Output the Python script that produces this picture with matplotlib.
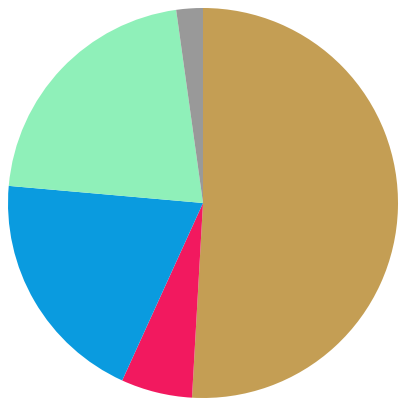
import matplotlib
matplotlib.use('Agg')
import matplotlib.pyplot as plt

# slice shares in percent, clockwise from 12 o'clock
labels = ['tan', 'pink', 'blue', 'green', 'gray']
values = [50.9, 5.9, 19.6, 21.4, 2.2]
colors = ['#C49E54', '#F2195F', '#0A9BDF', '#8FF0B9', '#999999']

fig = plt.figure(figsize=(4.03, 4.03), dpi=100)
ax = fig.add_axes([0, 0, 1, 1])
ax.pie(values, colors=colors, startangle=90, counterclock=False, radius=1,
       wedgeprops={'linewidth': 0})
ax.set_xlim(-203 / 195, 200 / 195)
ax.set_ylim(-200 / 195, 203 / 195)
ax.set_aspect('equal')
ax.axis('off')
plt.savefig('out.png', dpi=100)
